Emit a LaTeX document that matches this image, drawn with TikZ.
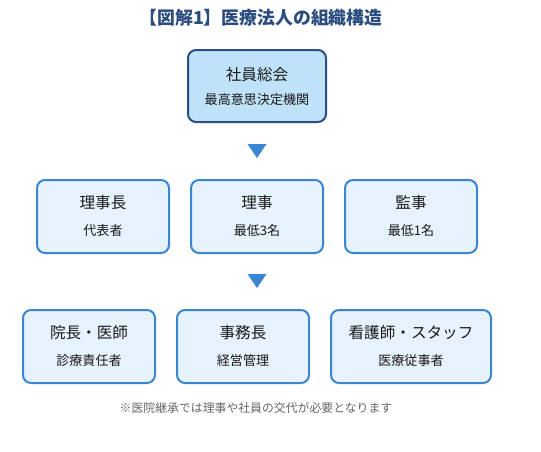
\documentclass[tikz,border=0pt]{standalone}
\usepackage{fontspec}
\setmainfont{Noto Sans CJK JP}
\usetikzlibrary{positioning,calc}
\definecolor{titleblue}{HTML}{2B4C7E}
\definecolor{topfill}{HTML}{BFE2F8}
\definecolor{topline}{HTML}{2B4F80}
\definecolor{boxfill}{HTML}{E6F2FD}
\definecolor{boxline}{HTML}{3B86D3}
\definecolor{notegray}{HTML}{666666}
\begin{document}
\begin{tikzpicture}[x=0.75pt, y=-0.75pt,
    topbox/.style={draw=topline, fill=topfill, line width=1.5pt, rounded corners=6pt,
        minimum width=103.5pt, minimum height=54pt, inner sep=0pt},
    orgbox/.style={draw=boxline, fill=boxfill, line width=1.5pt, rounded corners=6pt,
        minimum width=99pt, minimum height=54.75pt, inner sep=0pt},
    headtxt/.style={font=\fontsize{11.7pt}{13pt}\selectfont, text=black!90},
    subtxt/.style={font=\fontsize{9.8pt}{11pt}\selectfont, text=black!90},
    marker/.style={fill=boxline}]
    \useasboundingbox (0,0) rectangle (541,451);
    \node[font=\bfseries\fontsize{13.4pt}{15pt}\selectfont, text=titleblue] (title) at (261,18) {【図解1】医療法人の組織構造};
    % top
    \node[topbox] (assembly) at (257,86) {};
    \node[headtxt] (assemblyhead) at (257,75) {社員総会};
    \node[subtxt] (assemblysub) at (257,100) {最高意思決定機関};
    \coordinate (markA) at (257,151);
    \fill[marker] ($(markA)+(-9.5,-7)$) -- ++(19,0) -- ($(markA)+(0,7)$) -- cycle;
    % board
    \foreach \name/\x/\head/\sub in {chair/103/理事長/代表者, director/257/理事/最低3名, auditor/411/監事/最低1名}{
        \node[orgbox] (\name) at (\x,216.5) {};
        \node[headtxt] (\name head) at (\x,203) {\head};
        \node[subtxt] (\name sub) at (\x,231) {\sub};
    }
    \coordinate (markB) at (257,281);
    \fill[marker] ($(markB)+(-9.5,-7)$) -- ++(19,0) -- ($(markB)+(0,7)$) -- cycle;
    % staff
    \foreach \name/\x/\w/\head/\sub in {doctor/89/99/院長・医師/診療責任者, office/243/99/事務長/経営管理, nurse/411/120/看護師・スタッフ/医療従事者}{
        \node[orgbox, minimum width=\w pt] (\name) at (\x,346.5) {};
        \node[headtxt] (\name head) at (\x,333) {\head};
        \node[subtxt] (\name sub) at (\x,361) {\sub};
    }
    \node[font=\fontsize{8.9pt}{10pt}\selectfont, text=notegray] (note) at (256,408) {※医院継承では理事や社員の交代が必要となります};
\end{tikzpicture}
\end{document}
